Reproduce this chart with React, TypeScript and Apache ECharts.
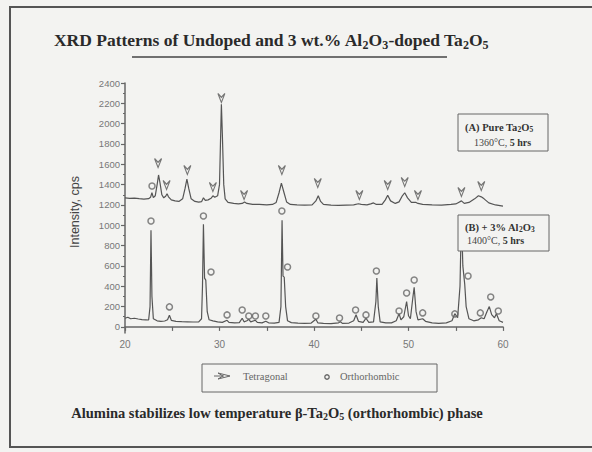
import React, { useEffect, useRef } from "react";
import * as echarts from "echarts";

// Pattern (A): pure Ta2O5, 1360°C, 5 hrs  [2θ, intensity]
const patternA: [number, number][] = [
  [20.0, 1270], [20.5, 1265], [21.0, 1268], [21.5, 1262], [22.0, 1258], [22.5, 1262], [22.7, 1275],
  [22.85, 1320], [23.0, 1272], [23.2, 1290], [23.4, 1400], [23.55, 1495], [23.7, 1420], [23.9, 1300],
  [24.1, 1270], [24.3, 1285], [24.45, 1310], [24.6, 1280], [24.9, 1250], [25.3, 1240], [25.7, 1235],
  [26.1, 1260], [26.35, 1360], [26.55, 1455], [26.75, 1360], [27.0, 1260], [27.4, 1235], [27.8, 1228],
  [28.1, 1232], [28.3, 1270], [28.5, 1245], [28.8, 1250], [29.1, 1265], [29.3, 1290], [29.5, 1275],
  [29.8, 1290], [30.0, 1400], [30.1, 1800], [30.2, 2190], [30.3, 1900], [30.45, 1400], [30.6, 1260],
  [30.9, 1225], [31.5, 1215], [32.0, 1210], [32.4, 1215], [32.65, 1230], [32.9, 1215], [33.5, 1205],
  [34.2, 1205], [35.0, 1200], [35.6, 1205], [36.0, 1225], [36.3, 1320], [36.55, 1415], [36.8, 1330],
  [37.1, 1230], [37.5, 1205], [38.2, 1200], [39.0, 1198], [39.8, 1200], [40.2, 1240], [40.45, 1290],
  [40.7, 1235], [41.0, 1205], [41.8, 1198], [42.6, 1195], [43.4, 1198], [44.2, 1200], [44.7, 1212],
  [45.0, 1205], [45.6, 1200], [46.0, 1210], [46.3, 1220], [46.6, 1205], [47.2, 1205], [47.55, 1250],
  [47.8, 1295], [48.1, 1240], [48.6, 1215], [49.0, 1230], [49.35, 1290], [49.6, 1320], [49.9, 1270],
  [50.3, 1225], [50.8, 1225], [51.0, 1215], [51.5, 1205], [52.5, 1200], [53.5, 1198], [54.5, 1205],
  [55.0, 1210], [55.3, 1225], [55.6, 1240], [55.9, 1215], [56.4, 1225], [57.0, 1260], [57.4, 1290],
  [57.7, 1280], [58.0, 1260], [58.5, 1220], [59.2, 1200], [60.0, 1188],
];

// Pattern (B): + 3% Al2O3, 1400°C, 5 hrs
const patternB: [number, number][] = [
  [20.0, 85], [20.3, 95], [20.6, 80], [21.0, 85], [21.4, 78], [21.8, 72], [22.2, 70], [22.5, 68],
  [22.65, 200], [22.75, 950], [22.85, 300], [23.0, 80], [23.4, 60], [23.8, 55], [24.2, 58], [24.5, 70],
  [24.7, 115], [24.9, 65], [25.4, 55], [26.0, 52], [26.6, 50], [27.2, 48], [27.8, 50], [28.1, 80],
  [28.2, 400], [28.3, 1010], [28.42, 480], [28.55, 460], [28.7, 150], [28.9, 70], [29.3, 60], [29.8, 50],
  [30.3, 45], [30.8, 65], [31.0, 45], [31.6, 40], [32.1, 42], [32.4, 85], [32.6, 50], [32.9, 60],
  [33.1, 75], [33.3, 50], [33.8, 65], [34.0, 45], [34.5, 40], [34.9, 55], [35.2, 40], [35.8, 38],
  [36.3, 45], [36.5, 200], [36.62, 1050], [36.72, 500], [36.85, 490], [37.0, 200], [37.2, 60], [37.6, 42],
  [38.3, 38], [39.0, 35], [39.7, 38], [40.2, 75], [40.4, 40], [41.0, 35], [41.8, 32], [42.6, 40],
  [42.8, 50], [43.0, 35], [43.7, 38], [44.2, 60], [44.45, 120], [44.7, 55], [45.2, 45], [45.5, 85],
  [45.8, 45], [46.3, 50], [46.55, 250], [46.65, 480], [46.8, 200], [47.0, 50], [47.6, 40], [48.2, 40],
  [48.7, 60], [49.0, 130], [49.2, 70], [49.5, 100], [49.8, 250], [50.0, 110], [50.2, 80], [50.45, 280],
  [50.6, 390], [50.8, 150], [51.0, 70], [51.5, 80], [51.8, 55], [52.5, 40], [53.2, 35], [54.0, 40],
  [54.6, 60], [54.9, 130], [55.2, 90], [55.45, 400], [55.6, 1100], [55.75, 600], [55.95, 420], [56.1, 200],
  [56.4, 80], [56.9, 60], [57.4, 70], [57.7, 90], [58.0, 80], [58.3, 150], [58.55, 200], [58.8, 120],
  [59.1, 90], [59.3, 130], [59.6, 60], [60.0, 45],
];

// Tetragonal markers (arrows) on pattern A
const tetragonalMarks: [number, number][] = [
  [23.5, 1612], [24.4, 1396], [26.6, 1544], [29.3, 1377], [30.2, 2252], [32.6, 1298], [36.6, 1544],
  [40.4, 1416], [44.8, 1298], [47.8, 1396], [49.6, 1426], [51.0, 1298], [55.6, 1327], [57.7, 1386],
];

// Orthorhombic markers (circles)
const orthoMarksA: [number, number][] = [[22.86, 1386]];
const orthoMarksB: [number, number][] = [
  [22.75, 1042], [24.7, 197], [28.3, 1091], [29.1, 541], [30.8, 118], [32.4, 167], [33.1, 108],
  [33.8, 108], [34.9, 108], [36.6, 1140], [37.2, 590], [40.2, 108], [42.7, 88], [44.4, 167],
  [45.5, 118], [46.6, 550], [49.0, 157], [49.8, 334], [50.6, 462], [51.5, 138], [54.9, 128],
  [56.3, 501], [57.6, 138], [58.7, 295], [59.5, 157],
];

const xLabelValues = [20, 30, 40, 50, 60];
const xTickValues = [20, 25, 30, 35, 40, 45, 50, 55, 60];
const yLabelValues = [0, 200, 400, 600, 800, 1000, 1200, 1400, 1600, 1800, 2000, 2200, 2400];
const yMinorTickValues = [100, 300, 500, 700, 900, 1100, 1300, 1500, 1700, 1900, 2100, 2300];

const ARROW = "path://M0 0 L5 12 L10 0 L5 5 Z";
const INK = "#555";
const SERIF = "'Liberation Serif', 'Times New Roman', serif";
const SANS = "'Liberation Sans', Arial, sans-serif";

export default function App() {
  const ref = useRef<HTMLDivElement>(null);
  useEffect(() => {
    if (!ref.current) return;
    const chart = echarts.init(ref.current, null, { renderer: "svg" });
    const sub = (size: number) => ({ fontSize: size, verticalAlign: "bottom", lineHeight: size });
    const plain = (v: number) => String(v);
    chart.setOption({
      animation: false,
      backgroundColor: "#f3f3f1",
      grid: { left: 125, right: 89, top: 83, bottom: 119 },
      xAxis: {
        type: "value",
        min: 20,
        max: 60,
        axisLine: { lineStyle: { color: "#666", width: 1.5 } },
        axisTick: { show: true, customValues: xTickValues, length: 4, lineStyle: { color: "#666", width: 1.2 } },
        axisLabel: { customValues: xLabelValues, formatter: plain, fontSize: 10, color: "#777", fontFamily: SANS, margin: 6 },
        splitLine: { show: false },
      },
      yAxis: [
        {
          type: "value",
          min: -60,
          max: 2400,
          axisLine: { show: true, lineStyle: { color: "#666", width: 1.5 } },
          axisTick: { show: true, customValues: yLabelValues, length: 4, lineStyle: { color: "#666", width: 1.2 } },
          axisLabel: { customValues: yLabelValues, formatter: plain, fontSize: 9.5, color: "#777", fontFamily: SANS, margin: 5 },
          splitLine: { show: false },
        },
        {
          type: "value",
          min: -60,
          max: 2400,
          position: "left",
          axisLine: { show: false },
          axisTick: { show: true, customValues: yMinorTickValues, length: 2, lineStyle: { color: "#666", width: 1 } },
          axisLabel: { show: false },
          splitLine: { show: false },
        },
      ],
      series: [
        { type: "line", data: patternA, symbol: "none", lineStyle: { color: INK, width: 1.2 }, z: 2 },
        { type: "line", data: patternB, symbol: "none", lineStyle: { color: INK, width: 1.2 }, z: 2 },
        {
          type: "scatter",
          data: tetragonalMarks,
          symbol: ARROW,
          symbolSize: [7, 9],
          itemStyle: { color: "none", borderColor: "#555", borderWidth: 1.2 },
          z: 3,
        },
        {
          type: "scatter",
          data: [...orthoMarksA, ...orthoMarksB],
          symbol: "circle",
          symbolSize: 6,
          itemStyle: { color: "none", borderColor: "#666", borderWidth: 1.5 },
          z: 3,
        },
      ],
      graphic: [
        { type: "polyline", shape: { points: [[600, 7], [10, 7], [10, 447], [600, 447]] }, style: { fill: "none", stroke: "#555", lineWidth: 2 }, z: 10 },
        {
          type: "text",
          x: 271,
          y: 40,
          style: {
            text: "XRD Patterns of Undoped and 3 wt.% Al{s|2}O{s|3}-doped Ta{s|2}O{s|5}",
            font: `bold 17.5px ${SERIF}`,
            fill: "#2a2a2a",
            align: "center",
            verticalAlign: "middle",
            lineHeight: 22,
            rich: { s: { ...sub(12), fontWeight: "bold", fontFamily: SERIF, fill: "#2a2a2a" } },
          },
          z: 10,
        },
        { type: "line", shape: { x1: 132, y1: 57, x2: 447, y2: 57 }, style: { stroke: "#444", lineWidth: 1.5 }, z: 10 },
        {
          type: "text",
          x: 75,
          y: 212,
          rotation: Math.PI / 2,
          style: { text: "Intensity, cps", font: `12.5px ${SANS}`, fill: "#444", align: "center", verticalAlign: "middle" },
          z: 10,
        },
        // box A
        { type: "rect", shape: { x: 458, y: 114, width: 90, height: 37 }, style: { fill: "#f3f3f1", stroke: "#666", lineWidth: 1 }, z: 10 },
        {
          type: "text",
          x: 465,
          y: 127,
          style: {
            text: "(A) Pure Ta{s|2}O{s|5}",
            font: `bold 10.5px ${SERIF}`,
            fill: "#333",
            verticalAlign: "middle",
            lineHeight: 13,
            rich: { s: { ...sub(7.5), fontWeight: "bold", fontFamily: SERIF, fill: "#333" } },
          },
          z: 11,
        },
        {
          type: "text",
          x: 474,
          y: 142,
          style: { text: "1360°C, {b|5 hrs}", font: `10px ${SERIF}`, fill: "#444", verticalAlign: "middle",
            rich: { b: { fontWeight: "bold", fontSize: 10, fontFamily: SERIF, fill: "#333" } } },
          z: 11,
        },
        // box B
        { type: "rect", shape: { x: 458, y: 215, width: 91, height: 36 }, style: { fill: "#f3f3f1", stroke: "#666", lineWidth: 1 }, z: 10 },
        {
          type: "text",
          x: 465,
          y: 227,
          style: {
            text: "(B) + 3% Al{s|2}O{s|3}",
            font: `bold 10.5px ${SERIF}`,
            fill: "#333",
            verticalAlign: "middle",
            lineHeight: 13,
            rich: { s: { ...sub(7.5), fontWeight: "bold", fontFamily: SERIF, fill: "#333" } },
          },
          z: 11,
        },
        {
          type: "text",
          x: 467,
          y: 240,
          style: { text: "1400°C, {b|5 hrs}", font: `10px ${SERIF}`, fill: "#444", verticalAlign: "middle",
            rich: { b: { fontWeight: "bold", fontSize: 10, fontFamily: SERIF, fill: "#333" } } },
          z: 11,
        },
        // bottom legend
        { type: "rect", shape: { x: 202, y: 364, width: 235, height: 28 }, style: { fill: "#f3f3f1", stroke: "#666", lineWidth: 1 }, z: 10 },
        { type: "polygon", shape: { points: [[218, 373], [230, 376], [218, 379], [223, 376]] }, style: { fill: "none", stroke: "#666", lineWidth: 1 }, z: 11 },
        { type: "line", shape: { x1: 214, y1: 376, x2: 224, y2: 376 }, style: { stroke: "#666", lineWidth: 1 }, z: 11 },
        { type: "text", x: 243, y: 376, style: { text: "Tetragonal", font: `10.5px ${SERIF}`, fill: "#666", verticalAlign: "middle" }, z: 11 },
        { type: "circle", shape: { cx: 327, cy: 377, r: 2.2 }, style: { fill: "none", stroke: "#666", lineWidth: 1.3 }, z: 11 },
        { type: "text", x: 340, y: 376, style: { text: "Orthorhombic", font: `10.5px ${SERIF}`, fill: "#666", verticalAlign: "middle" }, z: 11 },
        {
          type: "text",
          x: 277,
          y: 413,
          style: {
            text: "Alumina stabilizes low temperature β-Ta{s|2}O{s|5} (orthorhombic) phase",
            font: `bold 14.5px ${SERIF}`,
            fill: "#2a2a2a",
            align: "center",
            verticalAlign: "middle",
            lineHeight: 17,
            rich: { s: { ...sub(10), fontWeight: "bold", fontFamily: SERIF, fill: "#2a2a2a" } },
          },
          z: 10,
        },
      ],
    });
    return () => chart.dispose();
  }, []);
  return <div ref={ref} style={{ width: 592, height: 452, position: "absolute", left: 0, top: 0 }} />;
}
